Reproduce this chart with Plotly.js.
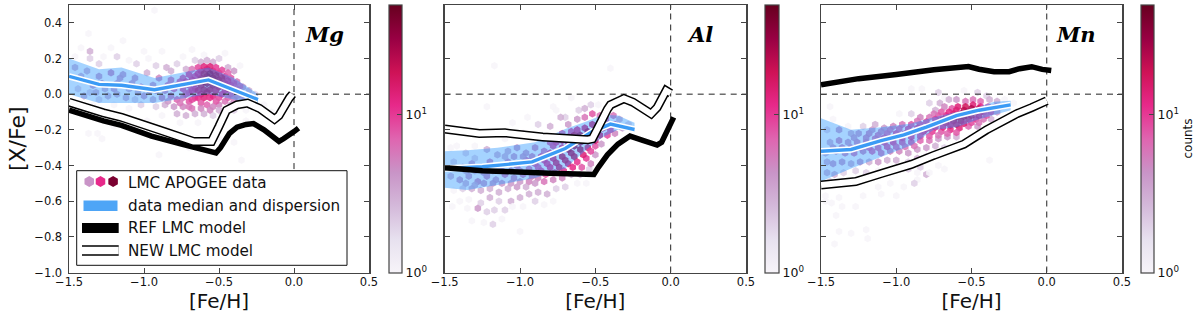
<!DOCTYPE html>
<html><head><meta charset="utf-8">
<script src="https://cdn.plot.ly/plotly-3.0.1.min.js"></script>
<style>html,body{margin:0;padding:0;background:#fff}#c{width:1200px;height:317px}</style>
</head><body><div id="c"></div>
<script>
// ---- data: [Fe/H], [X/Fe], counts
const mgHex = [[-1.46,0.21,1],[-1.42,0.26,1],[-1.37,0.34,1],[-1.36,0.24,3],[-1.36,0.20,2],[-1.30,0.17,2],[-1.27,0.21,1],[-1.22,0.26,1],[-1.18,0.21,2],[-1.14,0.30,1],[-1.1,0.19,1],[-1.05,0.17,2],[-1.0,0.24,1],[-0.97,0.20,1],[-0.93,0.47,1],[-0.92,0.16,2],[-0.88,0.24,1],[-0.85,0.15,3],[-0.82,0.13,3],[-0.78,0.17,2],[-0.74,0.21,1],[-0.72,0.14,3],[-0.68,0.25,1],[-0.66,0.19,2],[-0.62,0.18,3],[-0.6,0.22,1],[-0.58,0.19,3],[-0.54,0.18,3],[-0.5,0.2,2],[-0.46,0.23,1],[-0.44,0.15,3],[-0.4,0.13,4],[-0.36,0.16,1],
[-1.46,0.15,3],[-1.42,0.10,3],[-1.38,0.13,3],[-1.34,0.05,4],[-1.3,0.10,4],[-1.26,0.03,3],[-1.22,0.12,5],[-1.18,0.06,4],[-1.14,0.11,4],[-1.1,0.03,3],[-1.06,0.09,4],[-1.02,0.04,5],[-0.98,0.12,3],[-0.94,0.05,4],[-0.9,0.09,5],[-0.86,0.02,5],[-0.82,0.08,6],[-0.78,0.05,7],[-0.74,0.09,8],[-0.7,0.05,9],[-0.66,0.1,10],[-0.62,0.13,13],[-0.58,0.14,14],[-0.54,0.13,16],[-0.5,0.12,13],[-0.46,0.1,11],[-0.42,0.09,8],[-0.38,0.07,6],[-0.34,0.04,4],[-0.3,0.02,3],[-0.26,0.0,2],
[-0.7,0.11,10],[-0.66,0.06,14],[-0.62,0.09,22],[-0.58,0.1,30],[-0.54,0.09,28],[-0.5,0.08,22],[-0.46,0.06,16],[-0.42,0.05,12],[-0.38,0.03,8],[-0.34,-0.01,5],[-0.74,0.03,9],[-0.7,0.01,9],[-0.66,0.03,12],[-0.62,0.05,20],[-0.58,0.06,26],[-0.54,0.05,24],[-0.5,0.04,18],[-0.46,0.02,12],[-0.42,0.0,8],[-0.38,-0.01,5],
[-1.44,0.03,2],[-1.4,-0.01,3],[-1.36,0.01,2],[-1.3,-0.03,2],[-1.24,-0.01,3],[-1.18,0.0,3],[-1.12,-0.02,3],[-1.06,-0.03,2],[-1.0,-0.01,4],[-0.94,-0.03,3],[-0.88,-0.02,5],[-0.82,-0.01,6],[-0.78,-0.03,7],[-0.74,-0.02,6],[-0.7,-0.04,8],[-0.66,-0.02,10],[-0.62,0.0,12],[-0.58,0.01,16],[-0.54,-0.01,12],[-0.5,-0.02,9],[-0.46,-0.04,6],[-0.42,-0.06,4],[-0.36,-0.04,3],[-0.3,-0.05,3],[-0.26,-0.05,1],
[-1.34,-0.06,1],[-1.28,-0.1,1],[-1.2,-0.06,1],[-1.1,-0.08,1],[-1.02,-0.06,2],[-0.92,-0.07,2],[-0.86,-0.06,3],[-0.8,-0.07,4],[-0.74,-0.07,5],[-0.68,-0.08,6],[-0.62,-0.05,8],[-0.58,-0.06,7],[-0.54,-0.07,5],[-0.5,-0.06,5],[-0.46,-0.09,2],[-0.4,-0.09,2],[-0.32,-0.09,1],[-0.2,-0.06,1],[-0.15,-0.1,1],
[-0.78,-0.11,3],[-0.72,-0.12,3],[-0.66,-0.11,3],[-0.6,-0.11,3],[-0.54,-0.12,2],[-0.88,-0.12,1],[-1.37,-0.22,1],[-1.31,-0.22,1],[-1.28,-0.25,1],[-1.2,-0.18,1],[-1.06,-0.17,1],[-0.98,-0.15,1],[-0.85,-0.2,1],[-0.9,-0.34,1],[-0.76,-0.16,1],[-0.7,-0.3,1],[-0.64,-0.16,1],[-0.5,-0.25,1],[-0.4,-0.27,1],[-0.35,-0.37,1],[-0.32,-0.15,1],
[-0.64,0.115,12],[-0.6,0.115,20],[-0.56,0.115,26],[-0.52,0.105,22],[-0.48,0.09,18],[-0.44,0.075,12],[-0.4,0.06,9],[-0.36,0.045,7],[-0.68,0.08,12],[-0.64,0.07,18],[-0.6,0.07,26],[-0.56,0.075,30],[-0.52,0.065,28],[-0.48,0.05,20],[-0.44,0.03,14],[-0.4,0.02,9],[-0.36,0.01,6],[-0.72,0.07,10],[-0.76,0.07,8],[-0.8,0.03,7],[-0.84,0.05,6],[-0.72,-0.0,8],[-0.68,0.02,11],[-0.64,0.02,16],[-0.6,0.025,20],[-0.56,0.025,20],[-0.52,0.02,16],[-0.48,0.0,11],[-0.44,-0.02,7],[-0.4,-0.03,5],[-0.68,-0.03,9],[-0.64,-0.02,11],[-0.6,-0.02,13],[-0.56,-0.02,12],[-0.52,-0.04,8],[-0.64,0.15,9],[-0.6,0.155,13],[-0.56,0.155,14],[-0.52,0.15,10],[-0.48,0.135,9],[-0.44,0.12,7],[-0.68,0.14,6],[-0.62,-0.08,5],[-0.56,-0.09,5],[-0.5,-0.09,3],[-0.7,-0.07,6],[-0.76,-0.05,6],[-0.84,-0.04,4],[-0.96,0.02,4],[-1.08,0.06,4],[-1.2,0.03,4],[-1.32,0.01,3],[-1.28,0.06,4],[-1.16,0.09,4],[-1.04,0.01,3],[-0.92,0.02,4]];
const alHex = [[-1.17,0.16,1],[-0.4,0.145,1],[-0.78,-0.07,1],[-1.22,-0.07,1],[-0.95,-0.13,1],[-0.7,-0.13,2],[-0.61,-0.09,2],[-0.76,-0.09,1],[-0.57,-0.08,3],[-0.53,-0.06,2],[-0.48,-0.06,1],[-0.66,-0.02,1],
[-1.05,-0.16,1],[-0.88,-0.17,2],[-0.8,-0.18,3],[-0.73,-0.13,3],[-0.68,-0.17,4],[-0.62,-0.14,4],[-0.57,-0.13,6],[-0.52,-0.11,8],[-0.47,-0.12,6],[-0.43,-0.14,8],[-0.38,-0.12,6],[-0.34,-0.14,3],[-1.42,-0.29,1],[-1.3,-0.29,1],[-1.1,-0.25,1],[-0.98,-0.22,2],[-0.9,-0.24,3],[-0.84,-0.25,3],[-0.78,-0.24,5],[-0.72,-0.22,7],[-0.66,-0.21,9],[-0.62,-0.2,12],[-0.57,-0.19,14],[-0.52,-0.17,16],[-0.47,-0.16,14],[-0.42,-0.18,10],[-0.37,-0.17,8],[-0.32,-0.19,4],[-0.28,-0.17,2],
[-1.46,-0.3,1],[-1.36,-0.33,2],[-1.3,-0.36,2],[-1.22,-0.31,3],[-1.15,-0.34,3],[-1.08,-0.32,3],[-1.02,-0.3,4],[-0.96,-0.33,4],[-0.9,-0.3,5],[-0.84,-0.32,6],[-0.78,-0.29,9],[-0.72,-0.3,12],[-0.68,-0.27,14],[-0.62,-0.26,24],[-0.57,-0.24,28],[-0.52,-0.23,26],[-0.47,-0.23,16],[-0.42,-0.23,9],[-0.37,-0.22,5],
[-1.44,-0.38,2],[-1.38,-0.41,3],[-1.32,-0.39,4],[-1.26,-0.42,4],[-1.2,-0.38,5],[-1.14,-0.41,4],[-1.08,-0.38,5],[-1.02,-0.4,6],[-0.96,-0.37,7],[-0.9,-0.39,8],[-0.84,-0.37,10],[-0.78,-0.36,14],[-0.72,-0.35,20],[-0.66,-0.33,22],[-0.6,-0.31,24],[-0.55,-0.3,15],[-0.5,-0.29,8],[-0.46,-0.28,4],
[-1.46,-0.46,3],[-1.4,-0.48,4],[-1.34,-0.46,4],[-1.28,-0.49,5],[-1.22,-0.46,5],[-1.16,-0.48,4],[-1.1,-0.45,6],[-1.04,-0.47,5],[-0.98,-0.45,6],[-0.92,-0.46,6],[-0.86,-0.43,9],[-0.8,-0.41,12],[-0.74,-0.41,16],[-0.68,-0.39,14],[-0.62,-0.38,11],[-0.56,-0.36,10],[-0.5,-0.34,4],
[-1.44,-0.54,1],[-1.38,-0.53,2],[-1.32,-0.53,3],[-1.26,-0.54,3],[-1.2,-0.53,3],[-1.14,-0.55,3],[-1.08,-0.53,3],[-1.02,-0.52,4],[-0.96,-0.52,3],[-0.9,-0.5,4],[-0.84,-0.49,6],[-0.78,-0.48,5],[-0.72,-0.47,5],[-0.66,-0.45,3],[-0.6,-0.45,3],[-0.54,-0.42,2],
[-1.4,-0.6,1],[-1.34,-0.59,1],[-1.26,-0.61,2],[-1.2,-0.58,3],[-1.14,-0.6,2],[-1.06,-0.6,3],[-1.0,-0.58,3],[-0.94,-0.56,3],[-0.88,-0.55,3],[-0.82,-0.56,3],[-0.76,-0.53,2],[-0.7,-0.52,2],[-0.62,-0.5,1],[-0.56,-0.5,1],
[-1.45,-0.63,1],[-1.35,-0.64,1],[-1.28,-0.64,4],[-1.22,-0.66,2],[-1.17,-0.65,2],[-1.1,-0.65,2],[-1.05,-0.63,1],[-0.98,-0.63,1],[-0.9,-0.6,2],[-0.84,-0.62,1],[-0.78,-0.6,1],[-1.32,-0.71,1],[-1.24,-0.72,1],[-1.18,-0.73,2],[-1.12,-0.7,1],[-1.0,-0.77,1],
[-0.64,-0.23,20],[-0.6,-0.23,26],[-0.55,-0.21,24],[-0.5,-0.2,22],[-0.45,-0.19,14],[-0.4,-0.2,9],[-0.68,-0.24,14],[-0.72,-0.26,12],[-0.76,-0.27,10],[-0.8,-0.27,8],[-0.64,-0.29,26],[-0.6,-0.27,28],[-0.55,-0.26,22],[-0.5,-0.26,16],[-0.68,-0.31,24],[-0.74,-0.32,18],[-0.8,-0.33,12],[-0.86,-0.35,9],[-0.64,-0.35,20],[-0.7,-0.37,18],[-0.76,-0.385,16],[-0.82,-0.39,11],[-0.88,-0.41,8],[-0.58,-0.34,14],[-0.53,-0.32,9],[-0.65,-0.41,12],[-0.71,-0.43,10],[-0.77,-0.44,9],[-0.83,-0.45,8],[-0.59,-0.41,8],[-0.53,-0.39,5],[-0.94,-0.42,6],[-1.0,-0.43,5],[-1.06,-0.43,5],[-1.12,-0.43,5],[-1.18,-0.43,5],[-1.24,-0.44,4],[-1.3,-0.43,3],[-1.36,-0.43,3],[-0.88,-0.47,5],[-0.94,-0.49,5],[-1.0,-0.49,4],[-1.06,-0.5,4],[-1.12,-0.5,4],[-1.18,-0.5,4],[-1.24,-0.5,4],[-1.3,-0.51,3],[-1.36,-0.5,3],[-0.92,-0.35,5],[-0.98,-0.35,4],[-1.04,-0.35,4],[-1.1,-0.35,3]];
const mnHex = [[-1.44,-0.07,1],[-0.9,0.03,1],[-0.83,0.03,1],[-0.72,0.01,2],[-0.68,-0.02,1],[-0.55,0.02,1],[-0.46,0.01,2],[-0.4,-0.01,2],[-0.28,-0.03,1],[-0.78,-0.05,2],[-0.71,-0.05,3],[-0.65,-0.03,3],[-0.6,-0.03,4],[-0.54,-0.04,6],[-0.49,-0.03,6],[-0.44,-0.04,7],[-0.38,-0.03,3],[-0.33,-0.04,3],[-0.22,-0.05,1],
[-0.74,-0.09,3],[-0.68,-0.07,5],[-0.63,-0.08,8],[-0.59,-0.07,14],[-0.54,-0.07,18],[-0.49,-0.06,14],[-0.44,-0.07,12],[-0.39,-0.07,7],[-0.34,-0.07,5],[-0.3,-0.07,2],
[-0.98,-0.11,1],[-0.9,-0.11,2],[-0.84,-0.13,5],[-0.78,-0.13,6],[-0.72,-0.12,8],[-0.67,-0.12,12],[-0.62,-0.11,16],[-0.57,-0.11,20],[-0.52,-0.1,26],[-0.47,-0.1,22],[-0.42,-0.1,14],[-0.37,-0.1,9],[-0.33,-0.1,4],
[-1.42,-0.14,1],[-1.32,-0.18,1],[-1.22,-0.18,2],[-1.14,-0.17,3],[-1.08,-0.19,4],[-1.02,-0.18,5],[-0.96,-0.17,6],[-0.9,-0.17,8],[-0.84,-0.17,9],[-0.78,-0.18,10],[-0.72,-0.16,12],[-0.67,-0.16,16],[-0.62,-0.15,18],[-0.57,-0.15,20],[-0.52,-0.14,16],[-0.47,-0.14,12],[-0.42,-0.14,6],[-0.37,-0.14,3],
[-1.46,-0.2,2],[-1.38,-0.2,4],[-1.3,-0.22,3],[-1.25,-0.22,4],[-1.18,-0.22,5],[-1.12,-0.23,6],[-1.06,-0.22,7],[-1.0,-0.22,9],[-0.94,-0.22,9],[-0.88,-0.21,12],[-0.82,-0.21,12],[-0.76,-0.21,10],[-0.7,-0.21,8],[-0.64,-0.2,12],[-0.58,-0.19,13],[-0.52,-0.18,7],[-0.46,-0.18,4],
[-1.44,-0.27,3],[-1.38,-0.26,5],[-1.32,-0.27,4],[-1.26,-0.27,5],[-1.2,-0.27,6],[-1.14,-0.27,7],[-1.08,-0.27,9],[-1.02,-0.27,10],[-0.96,-0.27,8],[-0.9,-0.27,8],[-0.84,-0.26,7],[-0.78,-0.26,6],[-0.72,-0.25,4],[-0.66,-0.24,4],[-0.6,-0.24,3],[-0.5,-0.24,1],
[-1.47,-0.33,3],[-1.4,-0.32,4],[-1.34,-0.33,5],[-1.28,-0.33,6],[-1.22,-0.32,5],[-1.16,-0.32,7],[-1.1,-0.33,6],[-1.04,-0.32,5],[-0.98,-0.32,5],[-0.92,-0.33,4],[-0.86,-0.31,4],[-0.8,-0.3,4],[-0.74,-0.29,3],[-0.68,-0.3,2],[-0.38,-0.37,1],
[-1.46,-0.38,3],[-1.42,-0.39,4],[-1.36,-0.38,4],[-1.3,-0.39,3],[-1.24,-0.38,4],[-1.18,-0.38,3],[-1.12,-0.38,4],[-1.06,-0.37,3],[-1,-0.37,3],[-0.92,-0.38,2],[-0.86,-0.36,3],[-0.8,-0.35,2],[-0.72,-0.34,1],
[-1.46,-0.44,3],[-1.41,-0.45,3],[-1.35,-0.44,2],[-1.27,-0.43,2],[-1.2,-0.44,2],[-1.12,-0.43,1],[-1.04,-0.42,1],[-0.92,-0.42,2],[-0.84,-0.41,2],[-0.8,-0.45,3],[-0.86,-0.44,1],[-0.72,-0.4,1],[-0.68,-0.42,1],
[-1.44,-0.49,2],[-1.36,-0.49,2],[-0.86,-0.48,1],[-0.78,-0.44,1],[-1.12,-0.52,1],[-1.04,-0.5,1],[-0.95,-0.52,1],[-0.88,-0.5,2],
[-1.38,-0.58,1],[-1.22,-0.57,1],[-1.1,-0.56,1],[-1.0,-0.57,1],[-1.47,-0.6,1],[-1.43,-0.61,1],[-1.36,-0.63,1],[-1.47,-0.57,1],[-1.4,-0.68,1],[-1.38,-0.77,1],[-1.3,-0.78,1],[-1.2,-0.76,1],[-1.19,-0.81,1],[-1.41,-0.84,1],[-1.27,-0.63,1],
[-0.6,-0.09,14],[-0.55,-0.09,22],[-0.5,-0.08,24],[-0.45,-0.08,18],[-0.4,-0.085,10],[-0.65,-0.1,12],[-0.7,-0.1,8],[-0.75,-0.11,6],[-0.64,-0.135,16],[-0.6,-0.13,20],[-0.55,-0.125,22],[-0.5,-0.12,18],[-0.45,-0.12,14],[-0.4,-0.12,8],[-0.69,-0.14,14],[-0.74,-0.14,10],[-0.8,-0.155,9],[-0.86,-0.15,6],[-0.64,-0.175,14],[-0.6,-0.17,16],[-0.55,-0.165,14],[-0.5,-0.16,9],[-0.45,-0.16,6],[-0.69,-0.185,12],[-0.74,-0.185,12],[-0.8,-0.195,12],[-0.86,-0.19,10],[-0.92,-0.195,9],[-0.98,-0.195,7],[-1.04,-0.2,6],[-1.1,-0.21,5],[-1.16,-0.2,4],[-0.9,-0.24,10],[-0.96,-0.245,9],[-1.02,-0.245,9],[-1.08,-0.245,8],[-1.14,-0.25,6],[-1.2,-0.245,5],[-1.28,-0.245,4],[-0.84,-0.235,9],[-0.78,-0.235,8],[-0.72,-0.23,6],[-0.66,-0.22,7],[-0.6,-0.215,8],[-1.42,-0.3,4],[-1.36,-0.3,5],[-1.3,-0.3,5],[-1.24,-0.3,6],[-1.18,-0.3,7],[-1.12,-0.3,7],[-1.06,-0.295,8],[-1.0,-0.295,7],[-0.94,-0.295,6],[-0.88,-0.29,6]];

const mgBandX = [-1.5,-1.3,-1.15,-0.93,-0.57,-0.4,-0.24];
const mgBandHi = [0.2,0.14,0.15,0.09,0.15,0.09,0.0];
const mgBandLo = [0.0,-0.05,-0.05,-0.05,0.0,-0.03,-0.07];
const mgMedX = [-1.5,-1.3,-1.15,-0.93,-0.57,-0.24];
const mgMed = [0.1,0.055,0.05,0.025,0.08,-0.03];
const mgRefX = [-1.5,-1.27,-1.15,-0.95,-0.75,-0.52,-0.49,-0.43,-0.38,-0.32,-0.27,-0.2,-0.1,-0.07,0.0,0.03];
const mgRef = [-0.09,-0.15,-0.175,-0.235,-0.28,-0.33,-0.3,-0.22,-0.185,-0.17,-0.165,-0.2,-0.265,-0.25,-0.21,-0.19];
const mgNewX = [-1.5,-1.27,-1.15,-0.9,-0.67,-0.55,-0.5,-0.45,-0.38,-0.31,-0.23,-0.13,-0.1,-0.03,-0.01];
const mgNew = [-0.045,-0.105,-0.13,-0.2,-0.265,-0.265,-0.18,-0.09,-0.06,-0.05,-0.08,-0.14,-0.12,-0.02,0.0];

const alBandX = [-1.5,-1.35,-1.15,-0.9,-0.7,-0.55,-0.45,-0.35,-0.24];
const alBandHi = [-0.32,-0.315,-0.3,-0.27,-0.195,-0.15,-0.115,-0.12,-0.16];
const alBandLo = [-0.525,-0.537,-0.51,-0.47,-0.417,-0.305,-0.24,-0.2,-0.21];
const alMedX = [-1.5,-1.25,-1.1,-0.92,-0.7,-0.52,-0.4,-0.24];
const alMed = [-0.417,-0.407,-0.395,-0.38,-0.305,-0.21,-0.168,-0.198];
const alRefX = [-1.5,-1.25,-1.05,-0.8,-0.51,-0.48,-0.42,-0.35,-0.27,-0.18,-0.09,-0.06,0.02];
const alRef = [-0.413,-0.43,-0.435,-0.443,-0.45,-0.41,-0.34,-0.28,-0.235,-0.26,-0.285,-0.27,-0.13];
const alNewX = [-1.5,-1.27,-1.1,-0.85,-0.55,-0.52,-0.48,-0.42,-0.4,-0.31,-0.25,-0.13,-0.09,-0.03,0.0];
const alNew = [-0.195,-0.22,-0.217,-0.24,-0.255,-0.25,-0.185,-0.085,-0.06,-0.025,-0.045,-0.11,-0.075,0.02,0.005];

const mnBandX = [-1.5,-1.3,-1.1,-0.9,-0.75,-0.6,-0.45,-0.35,-0.24];
const mnBandHi = [-0.135,-0.2,-0.185,-0.165,-0.13,-0.1,-0.07,-0.043,-0.037];
const mnBandLo = [-0.49,-0.417,-0.35,-0.287,-0.2,-0.185,-0.14,-0.115,-0.09];
const mnMedX = [-1.5,-1.3,-1.1,-0.95,-0.8,-0.6,-0.45,-0.24];
const mnMed = [-0.32,-0.31,-0.26,-0.228,-0.185,-0.12,-0.09,-0.06];
const mnRefX = [-1.5,-1.25,-1.0,-0.75,-0.52,-0.45,-0.35,-0.25,-0.18,-0.1,-0.03,0.03];
const mnRef = [0.052,0.087,0.11,0.137,0.155,0.14,0.126,0.126,0.143,0.154,0.139,0.133];
const mnNewX = [-1.5,-1.27,-1.1,-0.9,-0.75,-0.55,-0.4,-0.2,-0.1,0.0];
const mnNew = [-0.51,-0.49,-0.445,-0.394,-0.343,-0.28,-0.2,-0.11,-0.075,-0.037];

const elements = ['Mg','Al','Mn'];
const legendLabels = ['LMC APOGEE data','data median and dispersion','REF LMC model','NEW LMC model'];
const legendHexColors = ['#c994c7','#e7298a','#7a0030'];
const legendHexX = [-1.365,-1.29,-1.206];
const legendHexY = [-0.49,-0.49,-0.49];
const cbMajor = [1,10];
const cbMinor = [2,3,4,5,6,7,8,9,20,30,40];
const countMax = 50;

const W=1200,H=317;
const plotBox = [[69,369],[444.7,746],[821,1122]];
const cbBox = [[389,402],[765,778.5],[1141,1154]];
const plotTop=5,plotBottom=272.5;
const PuRd=[[0,'#f7f4f9'],[0.125,'#e7e1ef'],[0.25,'#d4b9da'],[0.375,'#c994c7'],[0.5,'#df65b0'],[0.625,'#e7298a'],[0.75,'#ce1256'],[0.875,'#980043'],[1,'#67001f']];
const panels=[
 {hex:mgHex,bx:mgBandX,hi:mgBandHi,lo:mgBandLo,mx:mgMedX,m:mgMed,rx:mgRefX,r:mgRef,nx:mgNewX,n:mgNew},
 {hex:alHex,bx:alBandX,hi:alBandHi,lo:alBandLo,mx:alMedX,m:alMed,rx:alRefX,r:alRef,nx:alNewX,n:alNew},
 {hex:mnHex,bx:mnBandX,hi:mnBandHi,lo:mnBandLo,mx:mnMedX,m:mnMed,rx:mnRefX,r:mnRef,nx:mnNewX,n:mnNew}];
const traces=[];
const layout={width:W,height:H,margin:{l:0,r:0,t:0,b:0,autoexpand:false},paper_bgcolor:'#fff',plot_bgcolor:'#fff',showlegend:false,
  font:{family:'DejaVu Sans',size:12,color:'#111'},annotations:[],shapes:[]};
const frame='#444';
const px=v=>v/W, py=v=>1-v/H;
panels.forEach((p,i)=>{
  const s=i===0?'':String(i+1), xa='x'+s, ya='y'+s;
  const lines=(x,y,w,c,dash)=>traces.push({type:'scatter',mode:'lines',x,y,xaxis:xa,yaxis:ya,hoverinfo:'skip',line:{width:w,color:c,dash:dash||'solid',simplify:false}});
  traces.push({type:'scatter',mode:'markers',x:p.hex.map(h=>h[0]),y:p.hex.map(h=>h[1]),xaxis:xa,yaxis:ya,hoverinfo:'skip',
    marker:{symbol:'hexagon',size:7.5,opacity:0.85,line:{width:0},color:p.hex.map(h=>Math.log10(h[2])),colorscale:PuRd,cmin:0,cmax:Math.log10(countMax),
      colorbar:{x:cbBox[i][0]/W,xanchor:'left',xref:'paper',y:1-plotBottom/H,yanchor:'bottom',yref:'paper',len:(plotBottom-plotTop)/H,lenmode:'fraction',
        thickness:cbBox[i][1]-cbBox[i][0],thicknessmode:'pixels',outlinewidth:1.2,outlinecolor:frame,xpad:0,ypad:0,
        tickmode:'array',tickvals:cbMajor.map(v=>Math.log10(v)),ticktext:cbMajor.map(v=>'10<sup>'+Math.log10(v)+'</sup>'),
        ticks:'inside',ticklen:5,tickwidth:1,tickcolor:frame,tickfont:{family:'DejaVu Sans',size:12.5,color:'#111'},
        title:i===2?{text:'counts',side:'right',font:{family:'DejaVu Sans',size:12,color:'#111'}}:undefined}}});
  cbMinor.forEach(v=>{
    const yy=plotBottom-(plotBottom-plotTop)*Math.log10(v)/Math.log10(countMax);
    layout.shapes.push({type:'line',layer:'above',xref:'paper',yref:'paper',x0:px(cbBox[i][1]-2.5),x1:px(cbBox[i][1]),y0:py(yy),y1:py(yy),line:{color:frame,width:1}});
  });
  traces.push({type:'scatter',mode:'lines',x:p.bx.concat(p.bx.slice().reverse()),y:p.hi.concat(p.lo.slice().reverse()),xaxis:xa,yaxis:ya,hoverinfo:'skip',fill:'toself',fillcolor:'rgba(30,144,255,0.4)',line:{width:0,color:'rgba(0,0,0,0)'}});
  lines([-1.5,0.5],[0,0],1,'#222','6px,5px');
  lines([0,0],[i===0?-0.42:-1,0.5],1,'#222','6px,5px');
  lines(p.mx,p.m,6.5,'#ffffff');
  lines(p.mx,p.m,3.4,'#3b9bf5');
  lines(p.rx,p.r,5.5,'#000000');
  lines(p.nx,p.n,9,'#000000');
  lines(p.nx,p.n,6,'#ffffff');
  const axis={showgrid:false,zeroline:false,ticks:'inside',ticklen:5,tickwidth:1,tickcolor:frame,mirror:'ticks',showline:true,linecolor:frame,linewidth:1.5,
    tickfont:{family:'DejaVu Sans',size:11.5,color:'#111'},automargin:false};
  layout['xaxis'+s]=Object.assign({},axis,{domain:[plotBox[i][0]/W,plotBox[i][1]/W],range:[-1.5,0.5],tickmode:'linear',tick0:-1.5,dtick:0.5,tickformat:'.1f',anchor:ya,ticklabelstandoff:-2,
    title:{text:'[Fe/H]',font:{family:'DejaVu Sans',size:20,color:'#111'},standoff:6}});
  layout['yaxis'+s]=Object.assign({},axis,{domain:[1-plotBottom/H,1-plotTop/H],range:[-1,0.5],tickmode:'linear',tick0:-1,dtick:0.2,tickformat:'.1f',anchor:xa,showticklabels:i===0,ticklabelstandoff:3,
    title:i===0?{text:'[X/Fe]',font:{family:'DejaVu Sans',size:22,color:'#111'},standoff:2}:undefined});
  layout.annotations.push({xref:'paper',yref:'paper',x:[324,700,1076][i]/W,y:1-34/H,text:'<b><i>'+elements[i]+'</i></b>',showarrow:false,xanchor:'center',yanchor:'middle',font:{family:'DejaVu Serif',size:21,color:'#000'}});
});
// legend box and keys of the first panel
const rect=(layer,x0,x1,y0,y1,fill,op)=>layout.shapes.push({type:'rect',layer,xref:'paper',yref:'paper',x0:px(x0),x1:px(x1),y0:py(y1),y1:py(y0),fillcolor:fill,opacity:op||1,line:{width:0}});
layout.shapes.push({type:'rect',layer:'below',xref:'paper',yref:'paper',x0:px(76.7),x1:px(347),y0:py(265.3),y1:py(170.7),fillcolor:'#fff',line:{color:'#111',width:1}});
rect('above',83.5,117.5,200.5,211,'#3b9bf5',0.9);
rect('above',82,118.7,223,233,'#000');
rect('above',82,118.7,245.2,255.8,'#000');
rect('above',82,118.7,246.8,254.2,'#fff');
[183,206,228,251].forEach((y,k)=>layout.annotations.push({xref:'paper',yref:'paper',x:px(126),y:py(y),text:legendLabels[k],showarrow:false,xanchor:'left',yanchor:'middle',font:{family:'DejaVu Sans',size:15.2,color:'#111'}}));
traces.push({type:'scatter',mode:'markers',x:legendHexX,y:legendHexY,xaxis:'x',yaxis:'y',hoverinfo:'skip',marker:{symbol:'hexagon',size:11,color:legendHexColors,line:{width:0}}});
Plotly.newPlot('c',traces,layout,{displayModeBar:false,staticPlot:true}).then(()=>{
  document.querySelectorAll('#c text').forEach(t=>{if(!t.textContent.trim())t.remove();});
});
</script></body></html>
